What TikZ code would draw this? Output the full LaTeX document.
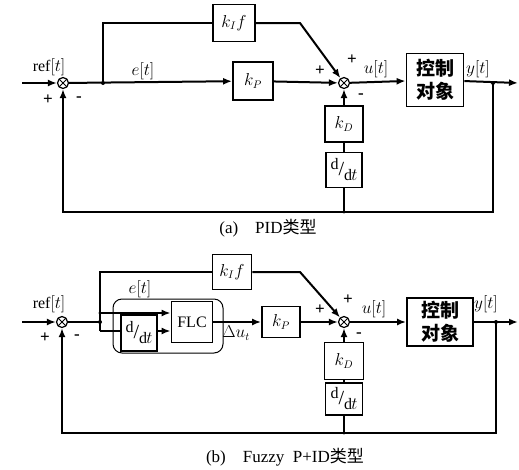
\documentclass[tikz,border=0pt]{standalone}
\usepackage{fontspec}
\setmainfont{Liberation Serif}
\newfontfamily\cjk{Noto Sans CJK SC}
\usetikzlibrary{calc, arrows.meta, positioning}

\newcommand{\ddtfrac}{\raisebox{.8ex}{d}{\fontsize{20}{20}\selectfont/}\raisebox{-.7ex}{d\kern-.05em$t$}}

\tikzset{
  blocco/.style={draw, line width=1.8pt, inner sep=0pt, font=\fontsize{16}{18}\selectfont},
  impianto/.style={blocco, align=center, font=\cjk\bfseries\fontsize{19}{23}\selectfont},
  nodo/.style={circle, draw, line width=1.2pt, minimum size=11pt, inner sep=0pt,
    path picture={\draw[line width=0.9pt]
      (path picture bounding box.south west) -- (path picture bounding box.north east)
      (path picture bounding box.north west) -- (path picture bounding box.south east);}},
  freccia/.style={line width=2pt, -{Latex[length=9pt,width=7pt]}},
  linea/.style={line width=2pt},
  segno/.style={font=\bfseries\fontsize{17}{17}\selectfont},
  etic/.style={font=\fontsize{16}{18}\selectfont},
  didasc/.style={font=\fontsize{17}{19}\selectfont}
}

\begin{document}
\begin{tikzpicture}[x=1pt, y=-1pt]
    \useasboundingbox (0,0) rectangle (519,469);

    % (a) punti
    \coordinate (inA) at (22,83);
    \coordinate (brA) at (103,83);
    \coordinate (gA) at (300,23);
    \coordinate (brYA) at (493,83);
    \coordinate (outA) at (518,83);
    \coordinate (fbA) at (344,212);
    \coordinate (fbAr) at (493,212);
    \coordinate (fbAl) at (63,212);

    % (a) blocchi
    \node[nodo] (sA1) at (63,83) {};
    \node[nodo] (sA2) at (344,83) {};
    \node[blocco, minimum width=42pt, minimum height=37pt] (kifA) at (234,23) {$k_If$};
    \node[blocco, minimum width=40pt, minimum height=38pt] (kpA) at (253,81) {$k_P$};
    \node[impianto, minimum width=57pt, minimum height=53pt] (plA) at (435,80) {控制\\对象};
    \node[blocco, minimum width=38pt, minimum height=36pt] (kdA) at (344,124) {$k_D$};
    \node[blocco, minimum width=36pt, minimum height=35pt] (ddA) at (344,170) {\ddtfrac};

    % (a) collegamenti
    \draw[freccia] (inA) -- (sA1);
    \draw[freccia] (sA1) -- (kpA);
    \draw[linea] (brA) |- (kifA);
    \draw[freccia] (kifA) -- (gA) -- (sA2);
    \draw[freccia] (kpA) -- (sA2);
    \draw[freccia] (sA2) -- (plA);
    \draw[freccia] (plA) -- (outA);
    \draw[freccia] (brYA) -- (fbAr) -- (fbAl) -- (sA1);
    \draw[linea] (fbA) -- (ddA);
    \draw[linea] (ddA) -- (kdA);
    \draw[freccia] (kdA) -- (sA2);
    \fill (brA) circle (2pt);
    \fill (brYA) circle (2pt);
    \fill (fbA) circle (1.6pt);

    % (a) etichette
    \node[etic] (lrA) at (49,67) {ref$[t]$};
    \node[segno] (pA1) at (48,100) {+};
    \node[segno] (mA1) at (79,99) {-};
    \node[etic] (leA) at (143,71) {$e[t]$};
    \node[segno] (pA2) at (320,71) {+};
    \node[segno] (pA3) at (352,60) {+};
    \node[etic] (luA) at (376,69) {$u[t]$};
    \node[segno] (mA2) at (361,96) {-};
    \node[etic] (lyA) at (478,69) {$y[t]$};
    \node[didasc] (capA) at (268,228) {(a)\quad PID{\cjk 类型}};

    % (b) punti
    \coordinate (inB) at (22,322);
    \coordinate (brB) at (100,322);
    \coordinate (eB) at (100,313);
    \coordinate (dB) at (100,331);
    \coordinate (gB) at (300,272);
    \coordinate (brYB) at (496,322);
    \coordinate (outB) at (518,322);
    \coordinate (fbB) at (344,433);
    \coordinate (fbBr) at (496,433);
    \coordinate (fbBl) at (62,433);

    % (b) blocchi
    \node[nodo] (sB1) at (62,322) {};
    \node[nodo] (sB2) at (344,322) {};
    \node[blocco, minimum width=39pt, minimum height=35pt] (kifB) at (232,272) {$k_If$};
    \node[blocco, minimum width=41pt, minimum height=41pt] (flc) at (192,322) {FLC};
    \node[blocco, minimum width=36pt, minimum height=36pt] (ddB) at (139,333) {\ddtfrac};
    \node[draw, line width=1pt, rounded corners=9pt, minimum width=110pt, minimum height=54pt] (fuzzy) at (168,326) {};
    \node[blocco, minimum width=38pt, minimum height=31pt] (kpB) at (281,322) {$k_P$};
    \node[impianto, minimum width=66pt, minimum height=48pt] (plB) at (440,322) {控制\\对象};
    \node[blocco, minimum width=39pt, minimum height=37pt] (kdB) at (344,361) {$k_D$};
    \node[blocco, minimum width=37pt, minimum height=32pt] (ddB2) at (344,399) {\ddtfrac};

    % (b) collegamenti
    \draw[freccia] (inB) -- (sB1);
    \draw[linea] (sB1) -- (brB);
    \draw[linea] (dB) |- (kifB);
    \draw[freccia] (eB) -- (eB -| flc.west);
    \draw[linea] (dB) -- (dB -| ddB.west);
    \draw[freccia] (ddB.east |- dB) -- (dB -| flc.west);
    \draw[freccia] (flc) -- (kpB);
    \draw[freccia] (kifB) -- (gB) -- (sB2);
    \draw[freccia] (kpB) -- (sB2);
    \draw[freccia] (sB2) -- (plB);
    \draw[freccia] (plB) -- (outB);
    \draw[freccia] (brYB) -- (fbBr) -- (fbBl) -- (sB1);
    \draw[linea] (fbB) -- (ddB2);
    \draw[linea] (ddB2) -- (kdB);
    \draw[freccia] (kdB) -- (sB2);
    \fill (brB) circle (2pt);
    \fill (eB) circle (1.6pt);
    \fill (brYB) circle (2pt);
    \fill (fbB) circle (1.6pt);

    % (b) etichette
    \node[etic] (lrB) at (49,304) {ref$[t]$};
    \node[segno] (pB1) at (45,338) {+};
    \node[segno] (mB1) at (77,337) {-};
    \node[etic] (leB) at (140,289) {$e[t]$};
    \node[etic] (lduB) at (236,333) {$\Delta u_t$};
    \node[segno] (pB2) at (320,310) {+};
    \node[segno] (pB3) at (348,300) {+};
    \node[etic] (luB) at (374,309) {$u[t]$};
    \node[segno] (mB2) at (359,335) {-};
    \node[etic] (lyB) at (486,304) {$y[t]$};
    \node[didasc] (capB) at (285,457) {(b)\quad Fuzzy\ \ P+ID{\cjk 类型}};
\end{tikzpicture}
\end{document}
